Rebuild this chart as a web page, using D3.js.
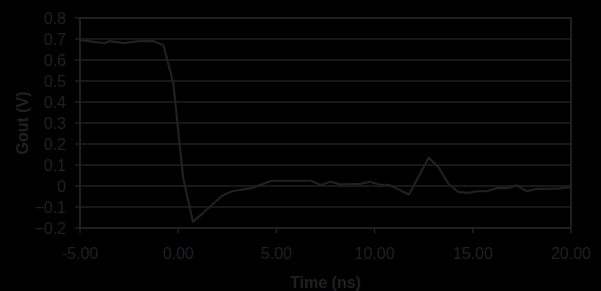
<!DOCTYPE html>
<html>
<head>
<meta charset="utf-8">
<script src="https://cdn.jsdelivr.net/npm/d3@7"></script>
<style>
  body { margin: 0; background: #000; }
  svg { display: block; font-family: "Liberation Sans", Arial, sans-serif; }
</style>
</head>
<body>
<div id="chart"></div>
<script>
// data
const times = [-5, -3.75, -3.5, -2.75, -2, -1.25, -0.75, -0.25, 0.25, 0.75, 1.25, 2.25, 2.75, 3.75,
  4.75, 6.75, 7.25, 7.75, 8.25, 9.25, 9.75, 10.25, 10.75, 11.75, 12.75, 13.25, 13.75, 14.25,
  14.75, 15.25, 15.75, 16.25, 16.75, 17.25, 17.75, 18.25, 19.25, 20];
const gout = [0.695, 0.68, 0.69, 0.68, 0.69, 0.69, 0.67, 0.49, 0.04, -0.17, -0.13, -0.045, -0.025, -0.01,
  0.025, 0.025, 0.005, 0.02, 0.008, 0.01, 0.02, 0.007, 0.005, -0.04, 0.135, 0.09, 0.012, -0.028,
  -0.033, -0.025, -0.024, -0.01, -0.01, 0.003, -0.025, -0.014, -0.013, -0.005];
const xTicks = [-5, 0, 5, 10, 15, 20];
const yTicks = [-0.2, -0.1, 0, 0.1, 0.2, 0.3, 0.4, 0.5, 0.6, 0.7, 0.8];

const width = 601, height = 291;
const margin = {left: 80, right: 30, top: 18, bottom: 63};
const ink = "#231f20";

const svg = d3.select("#chart").append("svg")
    .attr("width", width).attr("height", height);

svg.append("rect").attr("width", width).attr("height", height).attr("fill", "#000");

const x = d3.scaleLinear().domain([-5, 20]).range([margin.left, width - margin.right]);
const y = d3.scaleLinear().domain([-0.2, 0.8]).range([height - margin.bottom, margin.top]);

// gridlines + left ticks
svg.append("g").selectAll("line").data(yTicks).join("line")
    .attr("x1", margin.left - 5).attr("x2", x(20))
    .attr("y1", d => y(d)).attr("y2", d => y(d))
    .attr("stroke", ink).attr("stroke-width", 1.3);

// frame
svg.append("rect")
    .attr("x", x(-5)).attr("y", y(0.8))
    .attr("width", x(20) - x(-5)).attr("height", y(-0.2) - y(0.8))
    .attr("fill", "none").attr("stroke", ink).attr("stroke-width", 2);

// x ticks
svg.append("g").selectAll("line").data(xTicks).join("line")
    .attr("x1", d => x(d)).attr("x2", d => x(d))
    .attr("y1", y(-0.2)).attr("y2", y(-0.2) + 5)
    .attr("stroke", ink).attr("stroke-width", 1.5);

// y labels
svg.append("g").selectAll("text").data(yTicks).join("text")
    .attr("x", 66).attr("y", d => y(d) + 6)
    .attr("text-anchor", "end").attr("fill", ink).style("font-size", "16px")
    .text(d => d3.format("")(+d.toFixed(1)));

// x labels
svg.append("g").selectAll("text").data(xTicks).join("text")
    .attr("x", d => x(d)).attr("y", 259)
    .attr("text-anchor", "middle").attr("fill", ink).style("font-size", "16px")
    .text(d => d.toFixed(2));

// axis titles
svg.append("text")
    .attr("x", (x(-5) + x(20)) / 2).attr("y", 288)
    .attr("text-anchor", "middle").attr("fill", ink)
    .style("font-size", "16px").style("font-weight", "bold")
    .text("Time (ns)");

svg.append("text")
    .attr("transform", `translate(28, ${(y(-0.2) + y(0.8)) / 2}) rotate(-90)`)
    .attr("text-anchor", "middle").attr("fill", ink)
    .style("font-size", "16px").style("font-weight", "bold")
    .text("Gout (V)");

// trace
const line = d3.line().x((d, i) => x(times[i])).y(d => y(d));
svg.append("path").datum(gout)
    .attr("d", line)
    .attr("fill", "none").attr("stroke", ink).attr("stroke-width", 2.2)
    .attr("stroke-linejoin", "round");
</script>
</body>
</html>
